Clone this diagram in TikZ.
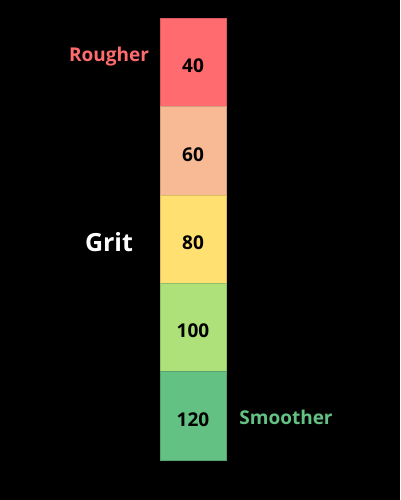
\documentclass[tikz,border=0pt]{standalone}
\usepackage{fontspec}
\setmainfont{Open Sans}
\usepackage{tikz}
\usetikzlibrary{positioning}
\usepackage{xcolor}

\definecolor{gritA}{HTML}{FF6B6E}
\definecolor{gritB}{HTML}{F8BA94}
\definecolor{gritC}{HTML}{FFE070}
\definecolor{gritD}{HTML}{AEE17A}
\definecolor{gritE}{HTML}{64C184}

\tikzset{
  gritbox/.style={draw=#1!85!black, line width=0.5pt, fill=#1, minimum width=66pt, minimum height=88.4pt, inner sep=0pt, outer sep=0pt},
  gritnum/.style={font=\fontsize{19}{22}\bfseries\selectfont, text=black, anchor=base},
  sidelabel/.style={font=\fontsize{19}{22}\bfseries\selectfont, anchor=base}
}

\begin{document}
\begin{tikzpicture}[x=1pt, y=1pt]
\fill[black] (0,0) rectangle (400,500);
\useasboundingbox (0,0) rectangle (400,500);

% grit scale
\node[gritbox=gritA, anchor=north west] (b40) at (160,482) {};
\node[gritbox=gritB, below=0pt of b40] (b60) {};
\node[gritbox=gritC, below=0pt of b60] (b80) {};
\node[gritbox=gritD, below=0pt of b80] (b100) {};
\node[gritbox=gritE, below=0pt of b100] (b120) {};

\foreach \g in {40,60,80,100,120}
  \node[gritnum] (n\g) at ([yshift=-10.5pt]b\g.center) {\g};

% side labels
\node[sidelabel, text=gritA] (rough) at (109,438.3) {Rougher};
\node[font=\fontsize{25}{28}\bfseries\selectfont, text=white, anchor=base] (grit) at (109,248.3) {Grit};
\node[sidelabel, text=gritE] (smooth) at (286,75) {Smoother};
\end{tikzpicture}
\end{document}
